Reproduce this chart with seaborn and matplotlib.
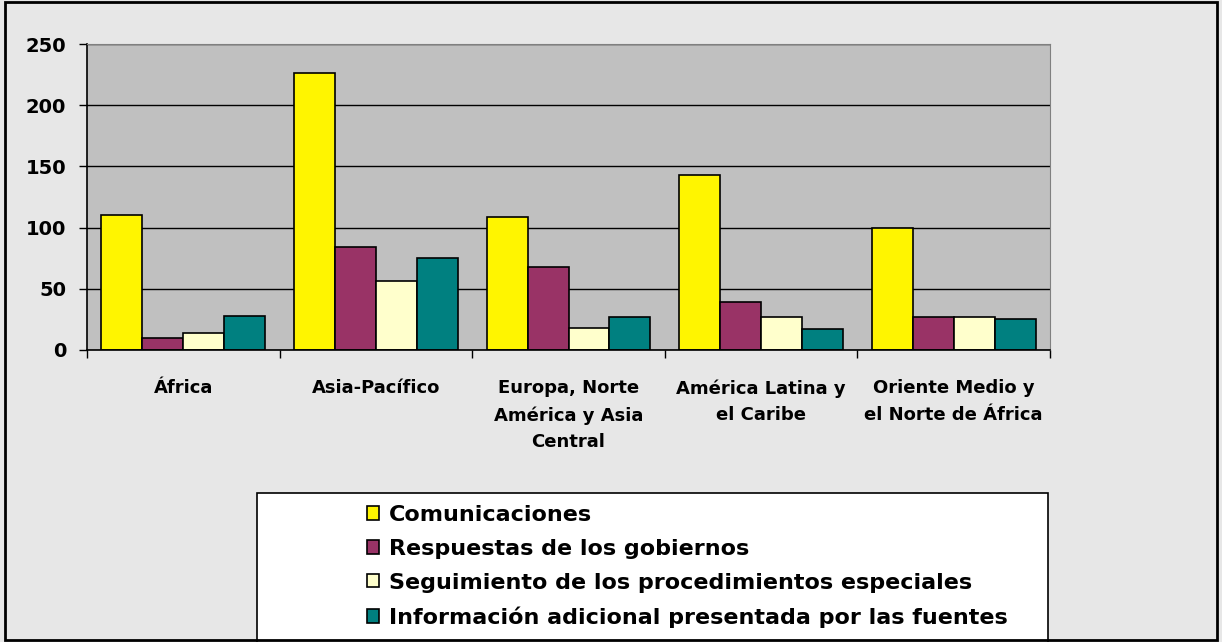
import pandas as pd
import matplotlib.pyplot as plt
import seaborn as sns
from matplotlib.patches import Patch, Rectangle

# Data
regiones = ['África', 'Asia-Pacífico', 'Europa, Norte\nAmérica y Asia\nCentral',
            'América Latina y\nel Caribe', 'Oriente Medio y\nel Norte de África']
series = ['Comunicaciones', 'Respuestas de los gobiernos',
          'Seguimiento de los procedimientos especiales',
          'Información adicional presentada por las fuentes']
comunicaciones = [110, 226, 109, 143, 100]
respuestas = [10, 84, 68, 39, 27]
seguimiento = [14, 56, 18, 27, 27]
informacion = [28, 75, 27, 17, 25]
colores = ['#FFF500', '#993366', '#FFFFCC', '#008080']

rows = []
for s, vals in zip(series, [comunicaciones, respuestas, seguimiento, informacion]):
    for r, v in zip(regiones, vals):
        rows.append({'Región': r, 'Serie': s, 'Valor': v})
df = pd.DataFrame(rows)

sns.set_style('white')
plt.rcParams['font.family'] = ['DejaVu Sans']
plt.rcParams['font.weight'] = 'bold'
plt.rcParams['text.color'] = 'black'
plt.rcParams['xtick.color'] = 'black'
plt.rcParams['ytick.color'] = 'black'

fig = plt.figure(figsize=(12.22, 6.42), dpi=100)
fig.patch.set_facecolor('#e7e7e7')
ax = fig.add_axes([87/1222, 1-350/642, (1050-87)/1222, (350-44)/642])
ax.set_facecolor('#C0C0C0')

sns.barplot(data=df, x='Región', y='Valor', hue='Serie', palette=colores, saturation=1,
            width=0.85, gap=0, edgecolor='black', linewidth=1.2, ax=ax, legend=False)

ax.set_ylim(0, 250)
ax.set_xlim(-0.5, 4.5)
ax.set_yticks([0, 50, 100, 150, 200, 250])
ax.yaxis.grid(True, color='black', linewidth=1)
ax.set_axisbelow(True)
ax.set_xlabel('')
ax.set_ylabel('')
for side in ['top', 'right']:
    ax.spines[side].set_color('#808080')
for side in ['left', 'bottom']:
    ax.spines[side].set_color('black')
    ax.spines[side].set_linewidth(1.2)

ax.tick_params(axis='y', direction='out', length=6, width=1, labelsize=14, pad=9,
               left=True, labelcolor='black')
ax.set_xticks([-0.5, 0.5, 1.5, 2.5, 3.5, 4.5], minor=True)
ax.tick_params(axis='x', which='major', length=0, labelsize=13, pad=21, labelcolor='black')
ax.tick_params(axis='x', which='minor', direction='out', length=6, width=1, bottom=True)
for lab in ax.get_yticklabels() + ax.get_xticklabels():
    lab.set_fontweight('bold')
for lab in ax.get_xticklabels():
    lab.set_linespacing(1.62)
    lab.set_verticalalignment('top')

# Legend box
fig.patches.append(Rectangle((257/1222, -0.01), (1048-257)/1222, (642-493)/642 + 0.01,
                             transform=fig.transFigure, facecolor='white',
                             edgecolor='black', linewidth=1.2, zorder=1))
handles = [Patch(facecolor=c, edgecolor='black', linewidth=1.2) for c in colores]
leg = fig.legend(handles, series, loc='upper left', bbox_to_anchor=(367/1222, 1-505/642),
                 frameon=False, borderpad=0, borderaxespad=0, handlelength=0.55,
                 handleheight=0.55, handletextpad=0.45, labelspacing=0.62,
                 prop={'size': 16, 'weight': 'bold'})
for t in leg.get_texts():
    t.set_color('black')

# Figure border
fig.patches.append(Rectangle((0.004, 0.003), 0.992, 0.994, transform=fig.transFigure,
                             fill=False, edgecolor='black', linewidth=2, zorder=3))

plt.savefig('out.png', dpi=100, facecolor=fig.get_facecolor())
